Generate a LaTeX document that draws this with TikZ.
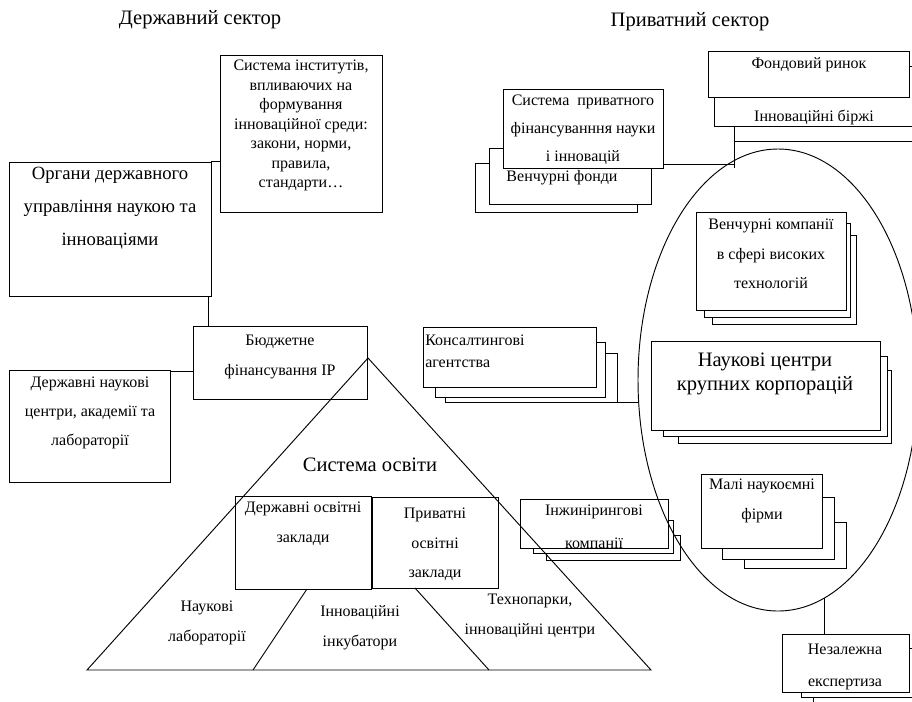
\documentclass[tikz,border=0pt]{standalone}
\usepackage{fontspec}
\setmainfont{Liberation Serif}
\usetikzlibrary{positioning, fit, shapes.geometric, calc}

\tikzset{
  card/.style={draw, fill=white, inner sep=0pt, line width=0.7pt},
  link/.style={line width=0.7pt},
  txt/.style={align=center, inner sep=0pt, anchor=north, yshift=5.25pt,
    font=\fontsize{12}{#1}\selectfont, execute at begin node={\rule{0pt}{0.72em}}},
  txt/.default=22,
  midtxt/.style={align=center, inner sep=0pt, anchor=north, yshift=6.15pt,
    font=\fontsize{14}{#1}\selectfont, execute at begin node={\rule{0pt}{0.72em}}},
  midtxt/.default=24.75,
  bigtxt/.style={align=center, inner sep=0pt, anchor=north, yshift=6.7pt,
    font=\fontsize{15.4}{#1}\selectfont, execute at begin node={\rule{0pt}{0.72em}}},
  bigtxt/.default=18,
}

\begin{document}
\begin{tikzpicture}[x=0.75pt, y=-0.75pt]
  \useasboundingbox (0,0) rectangle (912,701);

  % sector titles
  \node[bigtxt] (govTitle) at (200,18) {Державний сектор};
  \node[bigtxt] (privTitle) at (690,20) {Приватний сектор};

  % state sector
  \node[card, fit={(220,55) (382,212)}] (inst) {};
  \node[txt=14.6] (instText) at (301,67) {Система інститутів,\\впливаючих на\\формування\\інноваційної среди:\\закони, норми,\\правила,\\стандарти…};

  \node[card, fit={(9,162) (211,296)}] (organ) {};
  \node[midtxt] (organText) at (110,175) {Органи державного\\управління наукою та\\інноваціями};

  \node[card, fit={(193,326) (367,399)}] (budget) {};
  \node[txt=22.5] (budgetText) at (280,342) {Бюджетне\\фінансування ІР};

  \node[card, fit={(9,370) (170,482)}] (stateSci) {};
  \node[txt=21.75] (stateSciText) at (90,384) {Державні наукові\\центри, академії та\\лабораторії};

  \draw[link] (organ.north east) -- (organ.north east -| inst.west);
  \draw[link] ([xshift=-2.25pt]organ.south east) -- ([xshift=-2.25pt]organ.south east |- budget.north);
  \draw[link] ([yshift=-1.5pt]stateSci.north east) -- ([yshift=-1.5pt]stateSci.north east -| budget.west);

  % education pyramid
  \node[card, fit={(235,496) (371,589)}] (stateEdu) {};
  \node[txt=22.5] (stateEduText) at (303,509) {Державні освітні\\заклади};
  \node[card, fit={(372,497) (498,588)}] (privEdu) {};
  \node[txt=22] (privEduText) at (435,515) {Приватні\\освітні\\заклади};
  \node[bigtxt] (eduTitle) at (370,465) {Система освіти};
  \node[txt=22] (labText) at (207,608) {Наукові\\лабораторії};
  \node[txt=22.5] (incubText) at (360,612) {Інноваційні\\інкубатори};
  \node[txt=22.5] (parkText) at (530,601) {Технопарки,\\інноваційні центри};

  % stock market stack
  \draw[card] (734,100) rectangle (930,141);
  \draw[card] (714,66) rectangle (930,126);
  \node[card, fit={(708,51) (909,97)}] (fond) {};
  \node[txt] (fondText) at (809,64) {Фондовий ринок};
  \node[txt] (exchText) at (814,117) {Інноваційні біржі};
  \coordinate (fondLeg) at (734,126);

  % private finance stack
  \draw[card] (475,163) rectangle (637,212);
  \draw[card] (489,148) rectangle (651,204);
  \node[txt] (ventFundText) at (562,177) {Венчурні фонди};
  \node[card, fit={(503,89) (663,168)}] (privFin) {};
  \node[txt=21] (privFinText) at (583,102) {Система\ \ приватного\\фінансуванння науки\\і інновацій};

  % consulting stack
  \draw[card] (445,353) rectangle (617,402);
  \draw[card] (435,342) rectangle (605,397);
  \node[card, fit={(423,327) (596,387)}] (consult) {};
  \node[txt=16, align=left, anchor=north west] (consultText) at (425,342) {Консалтингові\\агентства};
  \coordinate (consultEnd) at (617,402);

  % engineering stack
  \draw[card] (546,535) rectangle (680,560);
  \draw[card] (533,520) rectangle (673,553);
  \node[card, fit={(520,499) (668,548)}] (eng) {};
  \begin{scope}
    \clip (520,499) rectangle (668,547);
    \node[txt=24.75] (engText) at (594,512) {Інжинірингові\\компанії};
  \end{scope}

  % venture companies stack
  \draw[card] (712,235) rectangle (856,324);
  \draw[card] (704,223) rectangle (850,317);
  \node[card, fit={(696,212) (846,310)}] (ventCo) {};
  \node[txt=22] (ventCoText) at (771,226) {Венчурні компанії\\в сфері високих\\технологій};

  % corporate centres stack
  \draw[card] (678,370) rectangle (891,443);
  \draw[card] (663,356) rectangle (887,436);
  \node[card, fit={(651,341) (880,430)}] (sciCorp) {};
  \node[bigtxt] (sciCorpText) at (765,362) {Наукові центри\\крупних корпорацій};

  % small firms stack
  \draw[card] (744,522) rectangle (846,568);
  \draw[card] (722,497) rectangle (834,559);
  \node[card, fit={(701,474) (822,548)}] (small) {};
  \node[txt=22] (smallText) at (762,486) {Малі наукоємні\\фірми};

  % expertise stack
  \draw[card] (813,660) rectangle (930,710);
  \draw[card] (801,648) rectangle (930,697);
  \node[card, fit={(782,634) (909,692)}] (indep) {};
  \begin{scope}
    \clip (782,634) rectangle (909,691);
    \node[txt=24] (indepText) at (845,651) {Незалежна\\експертиза};
  \end{scope}

  % pyramid outline and divisions
  \coordinate (apex) at (368,358);
  \coordinate (baseL) at (87,670);
  \coordinate (baseR) at (651,670);
  \draw[link] (apex) -- (baseL) -- (baseR) -- cycle;
  \draw[link] (307,589) -- (253,670);
  \draw[link] (415,588) -- (489,670);

  % private sector ellipse
  \node[draw, ellipse, inner sep=0pt, minimum width=210pt, minimum height=346.5pt, line width=0.7pt] (privEll) at (778,380) {};

  % connectors
  \coordinate (finY) at (0,164);
  \draw[link] (privFin.east |- finY) -- (fondLeg |- finY);
  \draw[link] (fondLeg) -- ++(0,42);
  \draw[link] (consultEnd) -- (consultEnd -| privEll.west);
  \draw[link] (privEll.-78) -- (privEll.-78 |- indep.north);
\end{tikzpicture}
\end{document}
